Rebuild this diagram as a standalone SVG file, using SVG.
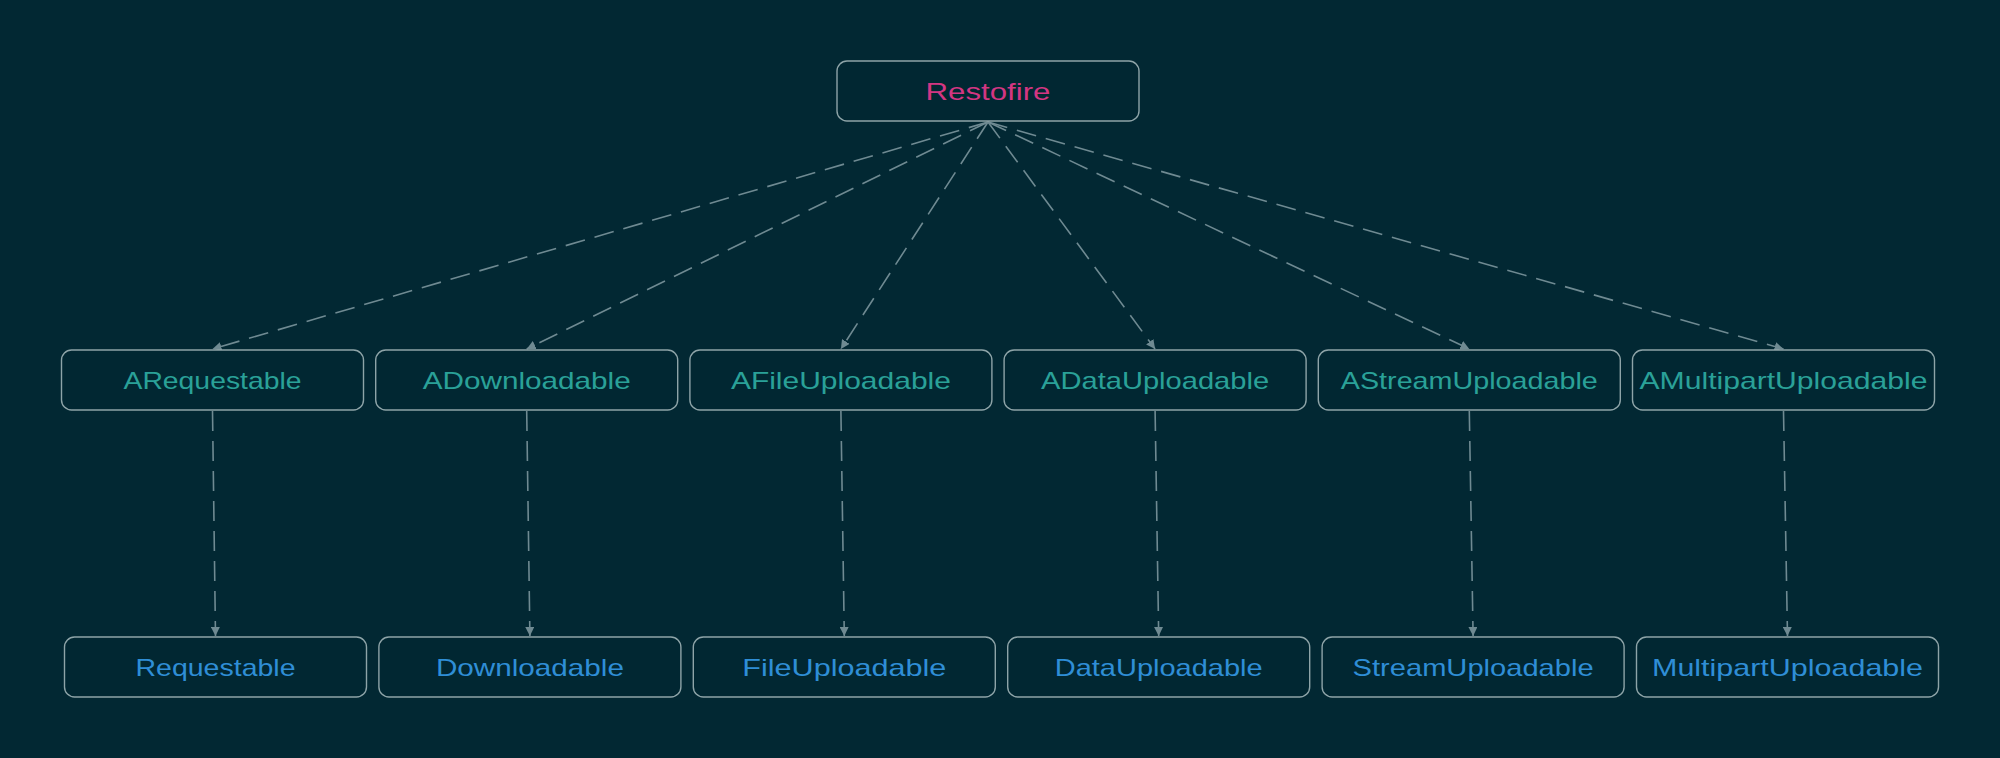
<svg xmlns="http://www.w3.org/2000/svg" width="2000" height="758" viewBox="0 0 2000 758">
  <defs>
    <marker id="arrow" viewBox="0 0 10 10" refX="10" refY="5" markerWidth="9" markerHeight="9" markerUnits="userSpaceOnUse" orient="auto">
      <path d="M0,0 L10,5 L0,10 z" fill="#6f8a92"/>
    </marker>
    <style>
      .box { fill: #012732; stroke: #8ea4a8; stroke-width: 1.4; }
      .t { font-family: "Liberation Sans", "DejaVu Sans", sans-serif; font-size: 24px; text-anchor: middle; }
      .top { fill: #d33682; }
      .mid { fill: #2aa198; }
      .bot { fill: #2f8ed6; }
      .edge { fill: none; stroke: #6f8a92; stroke-width: 1.6; stroke-dasharray: 20 10; marker-end: url(#arrow); }
    </style>
  </defs>
  <rect width="2000" height="758" fill="#022833"/>

  <g id="connectors">
    <path class="edge" d="M988,122 L212.5,349"/>
    <path class="edge" d="M988,122 L526.7,349"/>
    <path class="edge" d="M988,122 L840.9,349"/>
    <path class="edge" d="M988,122 L1155.1,349"/>
    <path class="edge" d="M988,122 L1469.3,349"/>
    <path class="edge" d="M988,122 L1783.5,349"/>
    <path class="edge" d="M212.5,411 L215.5,636"/>
    <path class="edge" d="M526.7,411 L529.9,636"/>
    <path class="edge" d="M840.9,411 L844.3,636"/>
    <path class="edge" d="M1155.1,411 L1158.7,636"/>
    <path class="edge" d="M1469.3,411 L1473.1,636"/>
    <path class="edge" d="M1783.5,411 L1787.5,636"/>
  </g>

  <g id="restofire">
    <rect class="box" x="837" y="61" width="302" height="60" rx="10"/>
    <text class="t top" x="988" y="100" textLength="125" lengthAdjust="spacingAndGlyphs">Restofire</text>
  </g>

  <g id="arequestable">
    <rect class="box" x="61.5" y="350" width="302" height="60" rx="10"/>
    <text class="t mid" x="212.5" y="389" textLength="178" lengthAdjust="spacingAndGlyphs">ARequestable</text>
  </g>
  <g id="adownloadable">
    <rect class="box" x="375.7" y="350" width="302" height="60" rx="10"/>
    <text class="t mid" x="526.7" y="389" textLength="208" lengthAdjust="spacingAndGlyphs">ADownloadable</text>
  </g>
  <g id="afileuploadable">
    <rect class="box" x="689.9" y="350" width="302" height="60" rx="10"/>
    <text class="t mid" x="840.9" y="389" textLength="220" lengthAdjust="spacingAndGlyphs">AFileUploadable</text>
  </g>
  <g id="adatauploadable">
    <rect class="box" x="1004.1" y="350" width="302" height="60" rx="10"/>
    <text class="t mid" x="1155.1" y="389" textLength="228" lengthAdjust="spacingAndGlyphs">ADataUploadable</text>
  </g>
  <g id="astreamuploadable">
    <rect class="box" x="1318.3" y="350" width="302" height="60" rx="10"/>
    <text class="t mid" x="1469.3" y="389" textLength="257" lengthAdjust="spacingAndGlyphs">AStreamUploadable</text>
  </g>
  <g id="amultipartuploadable">
    <rect class="box" x="1632.5" y="350" width="302" height="60" rx="10"/>
    <text class="t mid" x="1783.5" y="389" textLength="288" lengthAdjust="spacingAndGlyphs">AMultipartUploadable</text>
  </g>

  <g id="requestable">
    <rect class="box" x="64.5" y="637" width="302" height="60" rx="10"/>
    <text class="t bot" x="215.5" y="676" textLength="160" lengthAdjust="spacingAndGlyphs">Requestable</text>
  </g>
  <g id="downloadable">
    <rect class="box" x="378.9" y="637" width="302" height="60" rx="10"/>
    <text class="t bot" x="529.9" y="676" textLength="188" lengthAdjust="spacingAndGlyphs">Downloadable</text>
  </g>
  <g id="fileuploadable">
    <rect class="box" x="693.3" y="637" width="302" height="60" rx="10"/>
    <text class="t bot" x="844.3" y="676" textLength="204" lengthAdjust="spacingAndGlyphs">FileUploadable</text>
  </g>
  <g id="datauploadable">
    <rect class="box" x="1007.7" y="637" width="302" height="60" rx="10"/>
    <text class="t bot" x="1158.7" y="676" textLength="208" lengthAdjust="spacingAndGlyphs">DataUploadable</text>
  </g>
  <g id="streamuploadable">
    <rect class="box" x="1322.1" y="637" width="302" height="60" rx="10"/>
    <text class="t bot" x="1473.1" y="676" textLength="241" lengthAdjust="spacingAndGlyphs">StreamUploadable</text>
  </g>
  <g id="multipartuploadable">
    <rect class="box" x="1636.5" y="637" width="302" height="60" rx="10"/>
    <text class="t bot" x="1787.5" y="676" textLength="271" lengthAdjust="spacingAndGlyphs">MultipartUploadable</text>
  </g>
</svg>
